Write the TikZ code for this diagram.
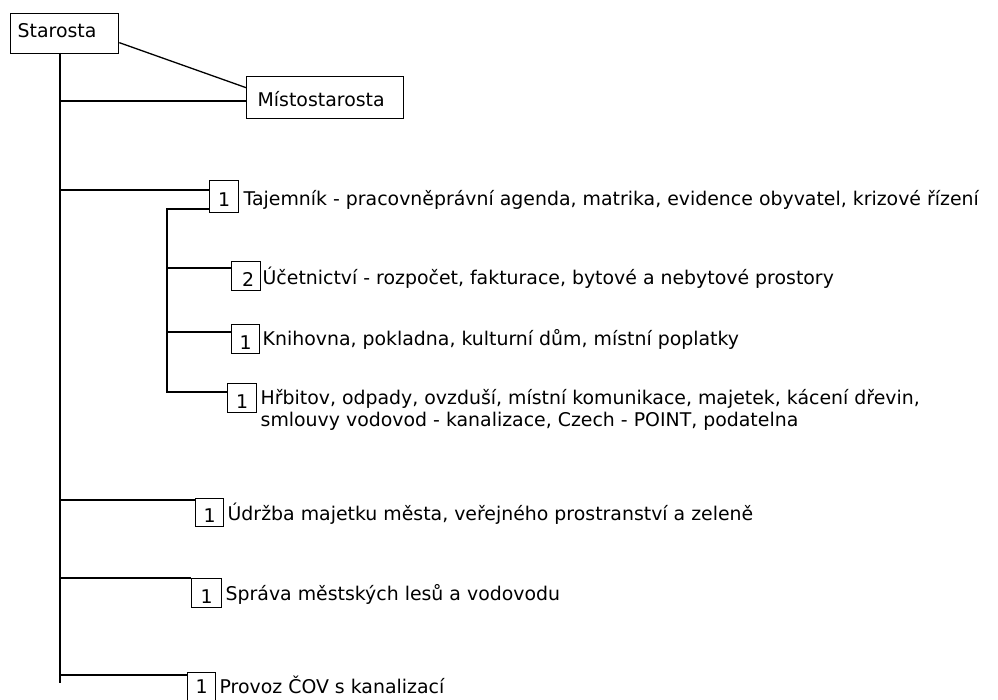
\documentclass[tikz,border=0pt]{standalone}
\usepackage{fontspec}
\setmainfont{DejaVu Sans}
\begin{document}
\begin{tikzpicture}[x=1pt,y=-1pt,line width=1.3pt,
  fnt/.style={font=\fontsize{18.9}{21}\selectfont},
  lbl/.style={fnt,anchor=base west,inner sep=0pt},
  topbox/.style={fnt,draw,anchor=north west,inner ysep=0pt,align=left},
  numbox/.style={fnt,draw,anchor=north west,inner sep=0pt,text height=20pt,text depth=0pt}]
\useasboundingbox[fill=white] (0,0) rectangle (998,700);
% top boxes
\node[topbox,inner xsep=7pt,text width=94pt,text height=24pt,text depth=16pt] (st) at (10,13) {Starosta};
\node[topbox,inner xsep=11pt,text width=135pt,text height=30pt,text depth=12pt] (mist) at (246,76) {Místostarosta};
% number boxes
\node[numbox,minimum width=29pt,minimum height=32pt] (n1) at (209,180) {1};
\node[numbox,minimum width=29pt,minimum height=29pt] (n2) at (231,261) {\hspace*{4pt}2};
\node[numbox,minimum width=28pt,minimum height=29pt] (n3) at (231,324) {1};
\node[numbox,minimum width=29pt,minimum height=29pt] (n4) at (227,383) {1};
\node[numbox,minimum width=28pt,minimum height=28pt] (n5) at (195,498) {1};
\node[numbox,minimum width=30pt,minimum height=29pt] (n6) at (191,578) {1};
\node[numbox,minimum width=28pt,minimum height=30pt,text height=12pt] (n7) at (187,672) {1};
% labels
\node[lbl] (l1) at (243,206) {Tajemník - pracovněprávní agenda, matrika, evidence obyvatel, krizové řízení};
\node[lbl] (l2) at (262,285) {Účetnictví - rozpočet, fakturace, bytové a nebytové prostory};
\node[lbl] (l3) at (262,345) {Knihovna, pokladna, kulturní dům, místní poplatky};
\node[lbl] (l4a) at (260,404) {Hřbitov, odpady, ovzduší, místní komunikace, majetek, kácení dřevin,};
\node[lbl] (l4b) at (260,426) {smlouvy vodovod - kanalizace, Czech - POINT, podatelna};
\node[lbl] (l5) at (227,520) {Údržba majetku města, veřejného prostranství a zeleně};
\node[lbl] (l6) at (225,600) {Správa městských lesů a vodovodu};
\node[lbl] (l7) at (219,693) {Provoz ČOV s kanalizací};
% trunk coordinates
\coordinate (tr0) at (60,53);
\coordinate (trE) at (60,683);
\coordinate (b1) at (60,101);
\coordinate (b2) at (60,190);
\coordinate (b5) at (60,500);
\coordinate (b6) at (60,578);
\coordinate (b7) at (60,675);
\coordinate (s0) at (167,209);
\coordinate (s2) at (167,268);
\coordinate (s3) at (167,332);
\coordinate (sE) at (167,392);
% connectors
\draw ([yshift=-9pt]st.east) -- ([yshift=10pt]mist.west);
\draw (tr0) -- (trE);
\draw (b1) -- (b1 -| mist.west);
\draw (b2) -- (b2 -| n1.west);
\draw (s0 -| n1.west) -- (s0) -- (sE) -- (sE -| n4.west);
\draw (s2) -- (s2 -| n2.west);
\draw (s3) -- (s3 -| n3.west);
\draw (b5) -- (b5 -| n5.west);
\draw (b6) -- (b6 -| n6.west);
\draw (b7) -- (b7 -| n7.west);
\end{tikzpicture}
\end{document}
